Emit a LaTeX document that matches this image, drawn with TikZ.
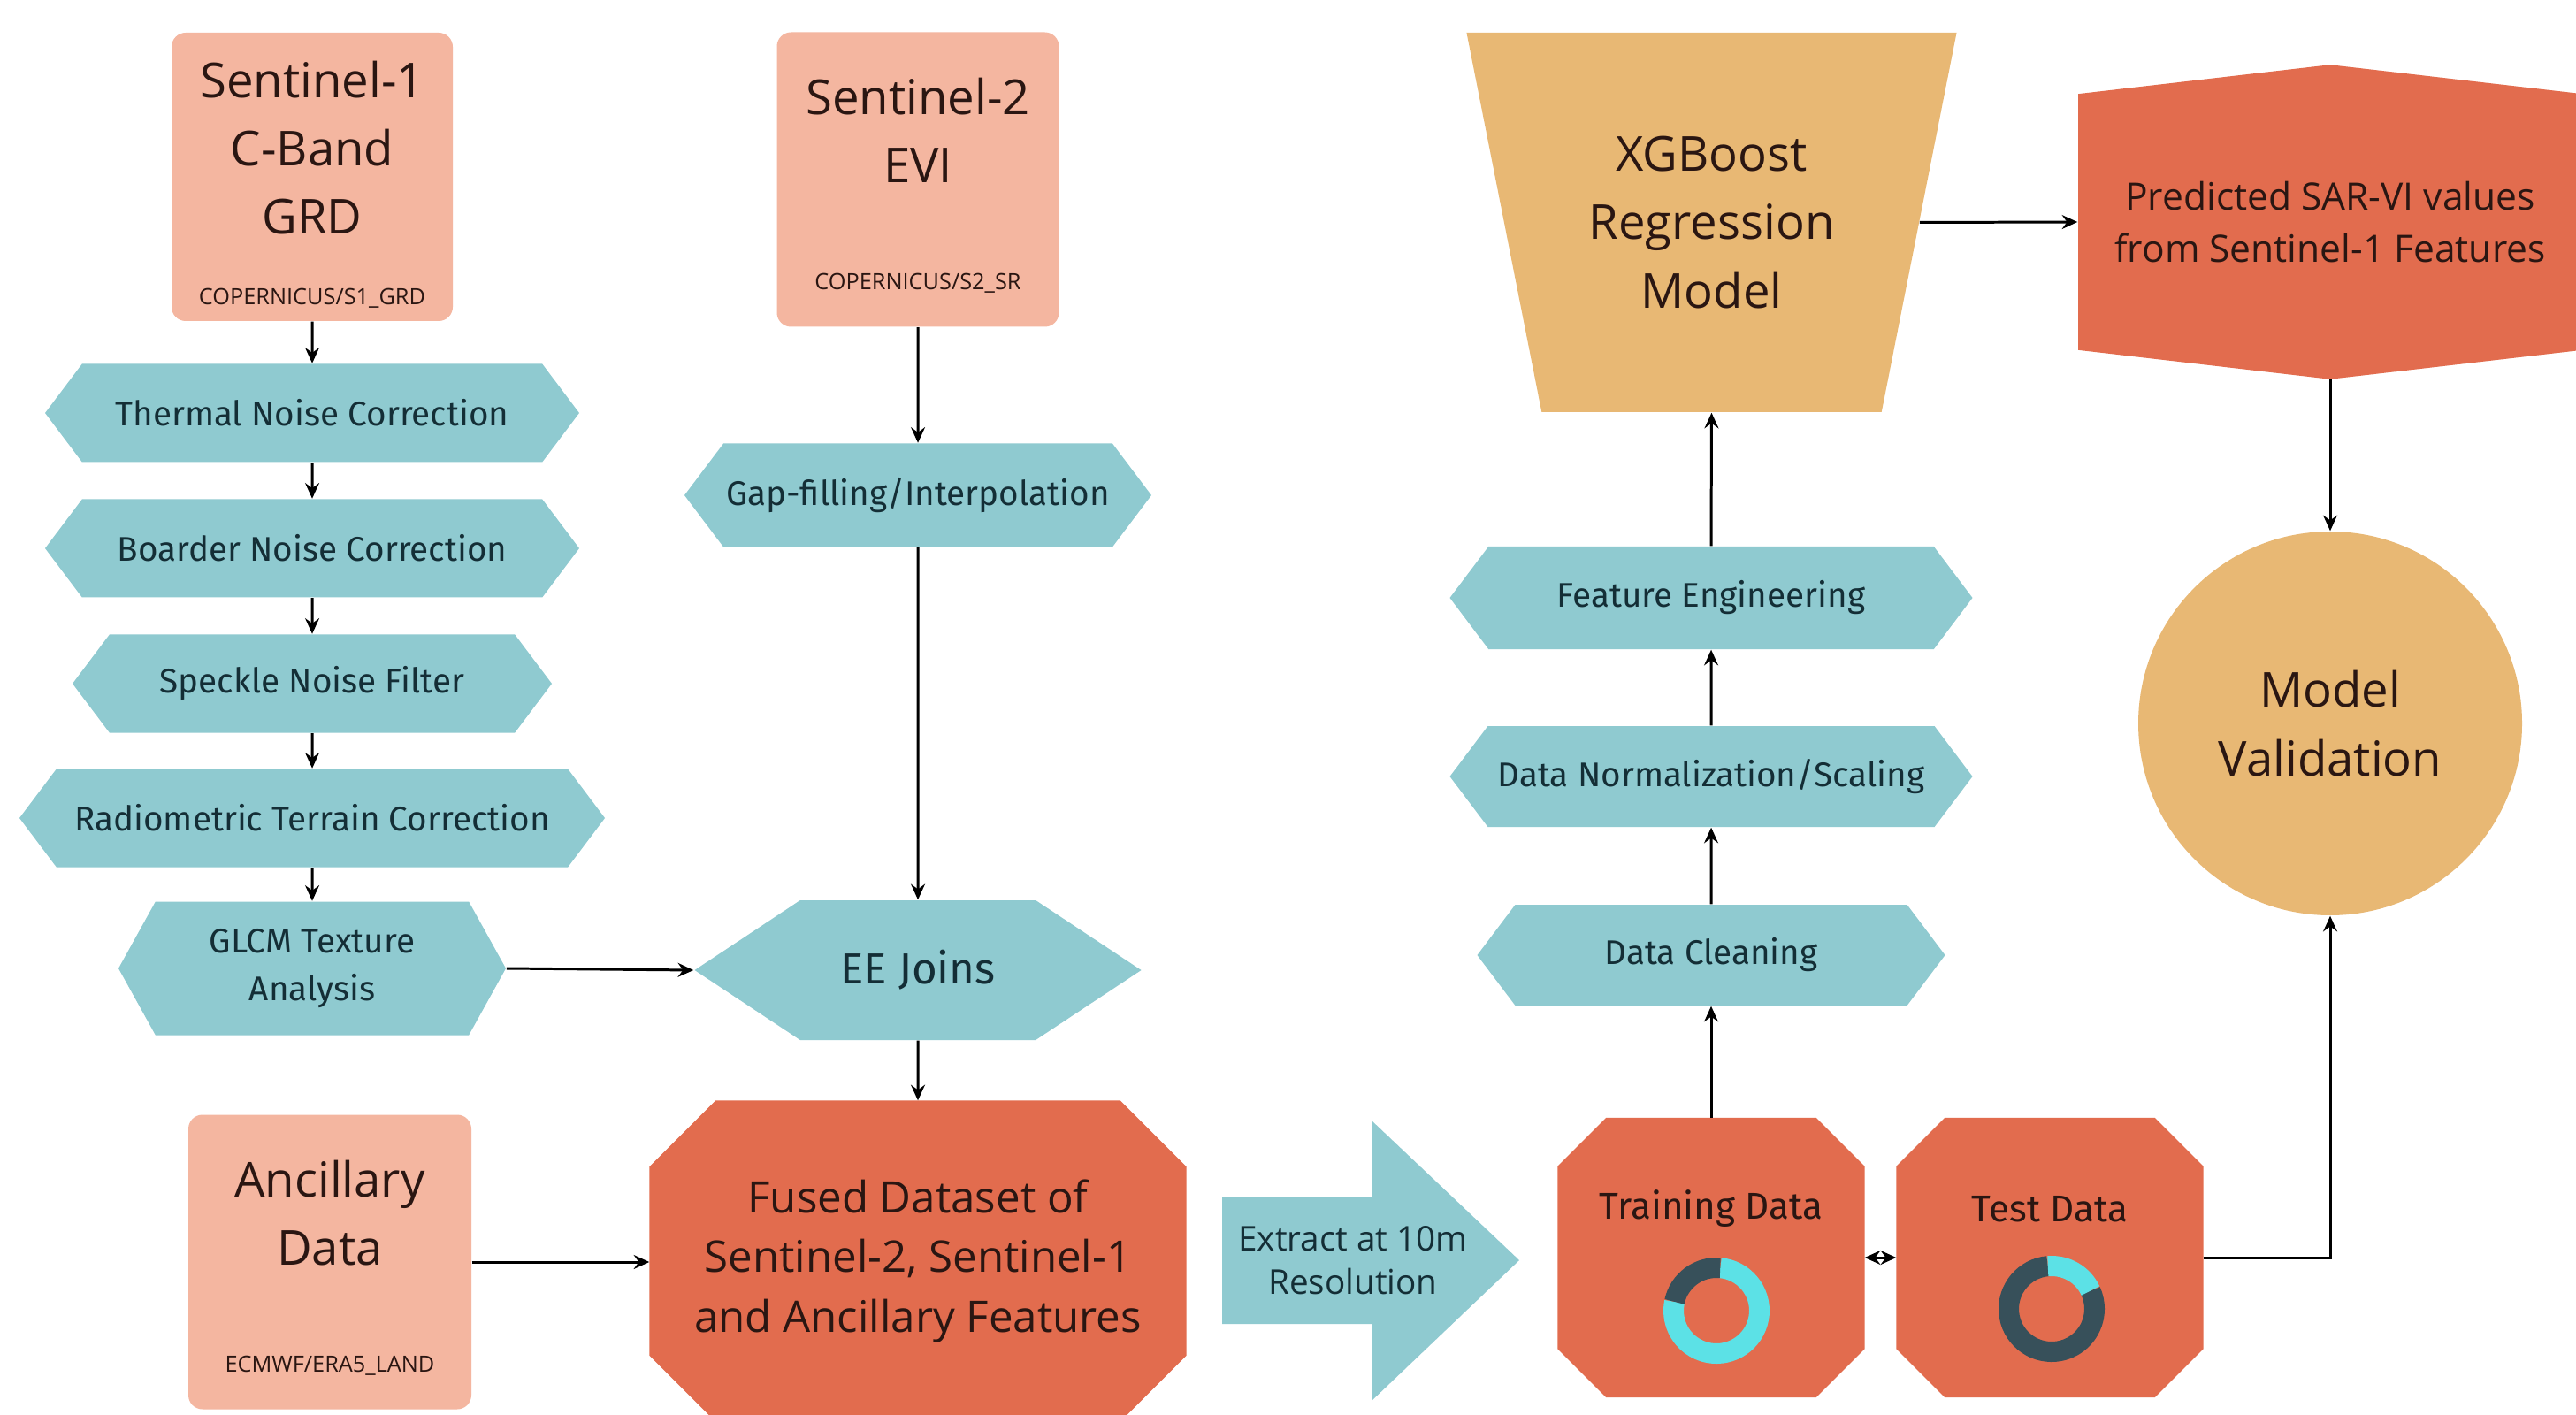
\documentclass[tikz,border=0pt]{standalone}
\usepackage{fontspec}
\setmainfont{Open Sans}
\newfontfamily\stepfont{Fira Sans}
\usetikzlibrary{arrows.meta,shapes.geometric,shapes.symbols}

\definecolor{srcpink}{RGB}{244,182,160}
\definecolor{stepteal}{RGB}{143,202,208}
\definecolor{fusedred}{RGB}{226,108,78}
\definecolor{modelgold}{RGB}{232,184,116}
\definecolor{ringcyan}{RGB}{92,225,230}
\definecolor{ringdark}{RGB}{55,80,90}
\definecolor{inkbrown}{RGB}{42,22,18}
\definecolor{inkteal}{RGB}{20,46,54}

% octagon fill behind a named node: node, corner cut
\newcommand\octfill[2]{%
    \fill[fusedred] ([yshift=-#2]#1.north west) -- ([xshift=#2]#1.north west)
        -- ([xshift=-#2]#1.north east) -- ([yshift=-#2]#1.north east)
        -- ([yshift=#2]#1.south east) -- ([xshift=-#2]#1.south east)
        -- ([xshift=#2]#1.south west) -- ([yshift=#2]#1.south west) -- cycle;}

\begin{document}
\begin{tikzpicture}[>={Stealth[length=5pt,width=4.5pt]},
    srcbox/.style={rectangle, rounded corners=0.16cm, fill=srcpink, inner sep=0},
    bigtxt/.style={align=center, text=inkbrown, font=\fontsize{15.5}{22}\selectfont},
    codetxt/.style={text=inkbrown, font=\fontsize{7.2}{9}\selectfont},
    procstep/.style={signal, signal to=east and west, signal pointer angle=106,
        fill=stepteal, text=inkteal, align=center, inner sep=0, minimum height=1.11cm,
        font=\stepfont\fontsize{11}{15.5}\selectfont},
    dataoct/.style={rectangle, inner sep=0},
    flow/.style={->, line width=0.85pt, black}]

    \fill[white] (0,0) rectangle (29.13,-16);
    \useasboundingbox (0,0) rectangle (29.13,-16);

    % sources
    \node[srcbox, minimum width=3.18cm, minimum height=3.26cm] (s1) at (3.53,-2.00) {};
    \node[bigtxt] (s1t) at ([yshift=0.33cm]s1.center) {Sentinel-1\\C-Band\\GRD};
    \node[codetxt] (s1c) at ([yshift=0.26cm]s1.south) {COPERNICUS/S1\_GRD};

    \node[srcbox, minimum width=3.19cm, minimum height=3.33cm] (s2) at (10.38,-2.03) {};
    \node[bigtxt] (s2t) at ([yshift=0.56cm]s2.center) {Sentinel-2\\EVI};
    \node[codetxt] (s2c) at ([yshift=0.50cm]s2.south) {COPERNICUS/S2\_SR};

    \node[srcbox, minimum width=3.20cm, minimum height=3.33cm] (anc) at (3.73,-14.27) {};
    \node[bigtxt] (anct) at ([yshift=0.555cm]anc.center) {Ancillary\\Data};
    \node[codetxt] (ancc) at ([yshift=0.50cm]anc.south) {ECMWF/ERA5\_LAND};

    % Sentinel-1 chain
    \node[procstep, minimum width=6.04cm] (thermal) at (3.53,-4.67) {Thermal Noise Correction};
    \node[procstep, minimum width=6.04cm] (border) at (3.53,-6.20) {Boarder Noise Correction};
    \node[procstep, minimum width=5.42cm] (speckle) at (3.53,-7.73) {Speckle Noise Filter};
    \node[procstep, minimum width=6.62cm] (rtc) at (3.53,-9.25) {Radiometric Terrain Correction};
    \node[procstep, minimum width=4.38cm, minimum height=1.51cm, signal pointer angle=122]
        (glcm) at (3.53,-10.95) {GLCM Texture\\Analysis};

    % Sentinel-2 chain
    \node[procstep, minimum width=5.28cm, minimum height=1.17cm] (gap) at (10.38,-5.60) {Gap-filling/Interpolation};
    \node[procstep, minimum width=5.05cm, minimum height=1.58cm, signal pointer angle=67,
        font=\stepfont\fontsize{14}{17}\selectfont] (ee) at (10.38,-10.97) {EE Joins};

    \node[dataoct, minimum width=6.06cm, minimum height=3.62cm] (fused) at (10.38,-14.26) {};
    \octfill{fused}{0.75cm}
    \node[align=center, text=inkbrown, font=\fontsize{14}{19.3}\selectfont] (fusedt) at (fused.center)
        {Fused Dataset of\\Sentinel-2, Sentinel-1\\and Ancillary Features};

    % big arrow
    \fill[stepteal] (13.82,-13.53) -- (15.52,-13.53) -- (15.52,-12.68) -- (17.18,-14.25)
        -- (15.52,-15.83) -- (15.52,-14.97) -- (13.82,-14.97) -- cycle;
    \node[align=center, text=inkteal, font=\fontsize{11}{14}\selectfont] (extract) at (15.30,-14.25)
        {Extract at 10m\\Resolution};

    % split
    \node[dataoct, minimum width=3.46cm, minimum height=3.15cm] (train) at (19.35,-14.22) {};
    \octfill{train}{0.55cm}
    \node[text=inkbrown, font=\stepfont\fontsize{12}{14}\selectfont] (traint) at ([yshift=0.55cm]train.center) {Training Data};
    \node[dataoct, minimum width=3.46cm, minimum height=3.15cm] (test) at (23.18,-14.22) {};
    \octfill{test}{0.55cm}
    \node[text=inkbrown, font=\stepfont\fontsize{12}{14}\selectfont] (testt) at ([yshift=0.55cm]test.center) {Test Data};

    \draw[line width=0.23cm, ringcyan] ([xshift=0.06cm,yshift=-0.6cm]train.center) ++(85:0.485) arc (85:-192:0.485);
    \draw[line width=0.23cm, ringdark] ([xshift=0.06cm,yshift=-0.6cm]train.center) ++(85:0.485) arc (85:168:0.485);
    \draw[line width=0.23cm, ringdark] ([xshift=0.02cm,yshift=-0.58cm]test.center) ++(95:0.485) arc (95:385:0.485);
    \draw[line width=0.23cm, ringcyan] ([xshift=0.02cm,yshift=-0.58cm]test.center) ++(25:0.485) arc (25:95:0.485);

    % model side
    \node[procstep, minimum width=5.29cm, minimum height=1.14cm] (clean) at (19.35,-10.80) {Data Cleaning};
    \node[procstep, minimum width=5.91cm, minimum height=1.14cm] (norm) at (19.35,-8.78) {Data Normalization/Scaling};
    \node[procstep, minimum width=5.91cm, minimum height=1.16cm] (feat) at (19.35,-6.76) {Feature Engineering};

    \node[trapezium, trapezium left angle=72.5, trapezium right angle=72.5, shape border rotate=180,
        trapezium stretches=true, minimum width=5.55cm, minimum height=4.29cm, inner sep=0,
        fill=modelgold, align=center, text=inkbrown, font=\fontsize{15.5}{22}\selectfont]
        (xgb) at (19.355,-2.515) {XGBoost\\Regression\\Model};

    \node[signal, signal to=north and south, signal pointer angle=166.8, fill=fusedred,
        minimum width=5.70cm, minimum height=3.46cm, inner sep=0, align=center, text=inkbrown,
        font=\fontsize{12.1}{17}\selectfont] (pred) at (26.35,-2.51)
        {Predicted SAR-VI values\\from Sentinel-1 Features};

    \node[circle, fill=modelgold, minimum size=4.34cm, align=center, text=inkbrown,
        font=\fontsize{15.5}{22}\selectfont] (valid) at (26.35,-8.18) {Model\\Validation};

    % connectors
    \draw[flow] (s1) -- (thermal);
    \draw[flow] (thermal) -- (border);
    \draw[flow] (border) -- (speckle);
    \draw[flow] (speckle) -- (rtc);
    \draw[flow] (rtc) -- (glcm);
    \draw[flow] (glcm.east) -- (ee.west);
    \draw[flow] (s2) -- (gap);
    \draw[flow] (gap) -- (ee);
    \draw[flow] (ee) -- (fused);
    \draw[flow] (anc.east) -- (anc.east -| fused.west);
    \draw[flow] (train.north) -- (clean.south);
    \draw[flow] (clean) -- (norm);
    \draw[flow] (norm) -- (feat);
    \draw[flow] (feat.north) -- (xgb.-90);
    \draw[flow] (xgb.0) -- (pred.west);
    \draw[flow] (pred.south) -- (valid.north);
    \draw[flow] (test.east) -| (valid.south);
    \draw[<->, line width=0.85pt] (train.east) -- (test.west);
\end{tikzpicture}
\end{document}
